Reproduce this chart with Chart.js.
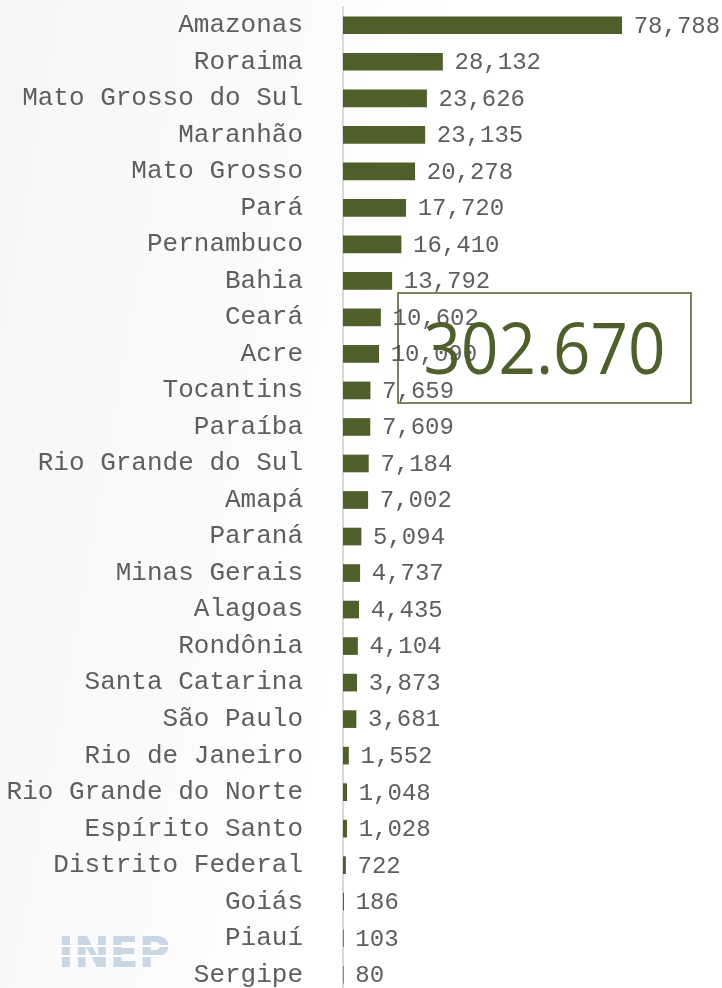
<!DOCTYPE html>
<html>
<head>
<meta charset="utf-8">
<script src="https://cdn.jsdelivr.net/npm/chart.js@4"></script>
<style>
  html, body { margin: 0; padding: 0; background: #fff; overflow: hidden; }
  #wrap { position: relative; width: 722px; height: 993px;
    background: linear-gradient(100deg, #f6f6f6 0%, #fbfbfb 35%, #fff 50%); }
</style>
</head>
<body>
<div id="wrap"><canvas id="myChart"></canvas></div>
<script>
const estados = ['Amazonas', 'Roraima', 'Mato Grosso do Sul', 'Maranhão', 'Mato Grosso', 'Pará', 'Pernambuco',
  'Bahia', 'Ceará', 'Acre', 'Tocantins', 'Paraíba', 'Rio Grande do Sul', 'Amapá', 'Paraná', 'Minas Gerais',
  'Alagoas', 'Rondônia', 'Santa Catarina', 'São Paulo', 'Rio de Janeiro', 'Rio Grande do Norte',
  'Espírito Santo', 'Distrito Federal', 'Goiás', 'Piauí', 'Sergipe'];
const valores = [78788, 28132, 23626, 23135, 20278, 17720, 16410, 13792, 10602, 10090, 7659, 7609, 7184,
  7002, 5094, 4737, 4435, 4104, 3873, 3681, 1552, 1048, 1028, 722, 186, 103, 80];

const verde = '#4e5f29';
const cinza = '#5e5e5e';
const mono = '"Liberation Mono", "Courier New", monospace';

const total = valores.reduce((a, b) => a + b, 0);
const totalTxt = String(total).replace(/\B(?=(\d{3})+(?!\d))/g, '.');

// value labels at the end of each bar
const rotulos = {
  id: 'rotulos',
  afterDatasetsDraw(chart) {
    const c = chart.ctx;
    const meta = chart.getDatasetMeta(0);
    c.save();
    c.font = '24px ' + mono;
    c.fillStyle = cinza;
    c.textBaseline = 'middle';
    meta.data.forEach((bar, i) => {
      c.fillText(valores[i].toLocaleString('en-US'), bar.x + 12, bar.y + 1);
    });
    c.restore();
  }
};

// total box + logo
const extras = {
  id: 'extras',
  afterDraw(chart) {
    const c = chart.ctx;
    const a = chart.chartArea;
    c.save();
    const bx = a.left + 55, by = 293, bw = 293, bh = 110;
    c.strokeStyle = verde;
    c.lineWidth = 1.5;
    c.strokeRect(bx, by, bw, bh);
    c.font = '72px "Open Sans", sans-serif';
    c.fillStyle = verde;
    c.textBaseline = 'alphabetic';
    const w = c.measureText(totalTxt).width;
    const s = 242 / w;
    c.translate(bx + bw / 2, by + 81);
    c.scale(s, 1);
    c.textAlign = 'center';
    c.fillText(totalTxt, 0, 0);
    c.restore();

    // INEP logo
    c.save();
    c.font = '900 42px "DejaVu Sans", sans-serif';
    c.fillStyle = '#c9d6e4';
    c.textBaseline = 'alphabetic';
    const lw = c.measureText('INEP').width;
    c.translate(58, 967);
    c.scale(112 / lw, 1);
    c.fillText('INEP', 0, 0);
    c.restore();
    c.save();
    c.fillStyle = '#ffffff';
    c.fillRect(56, 945, 118, 2);
    c.fillRect(56, 955, 118, 2);
    c.restore();
  }
};

new Chart(document.getElementById('myChart'), {
  type: 'bar',
  data: {
    labels: estados,
    datasets: [{
      data: valores,
      backgroundColor: verde,
      borderWidth: 0,
      barThickness: 17
    }]
  },
  options: {
    indexAxis: 'y',
    responsive: true,
    maintainAspectRatio: false,
    animation: false,
    layout: { padding: { top: 7, right: 96, bottom: 0, left: 0 } },
    plugins: {
      legend: { display: false },
      tooltip: { enabled: false }
    },
    scales: {
      x: {
        display: false,
        min: 0,
        max: 80000
      },
      y: {
        grid: { display: false, drawTicks: false },
        border: { display: true, color: '#d9d9d9', width: 2 },
        ticks: {
          color: cinza,
          padding: 40,
          font: { family: mono, size: 26 }
        },
        afterFit(scale) {
          scale.width = 343;
          scale.paddingTop = 0;
          scale.paddingBottom = 0;
        }
      }
    }
  },
  plugins: [rotulos, extras]
});
</script>
</body>
</html>
